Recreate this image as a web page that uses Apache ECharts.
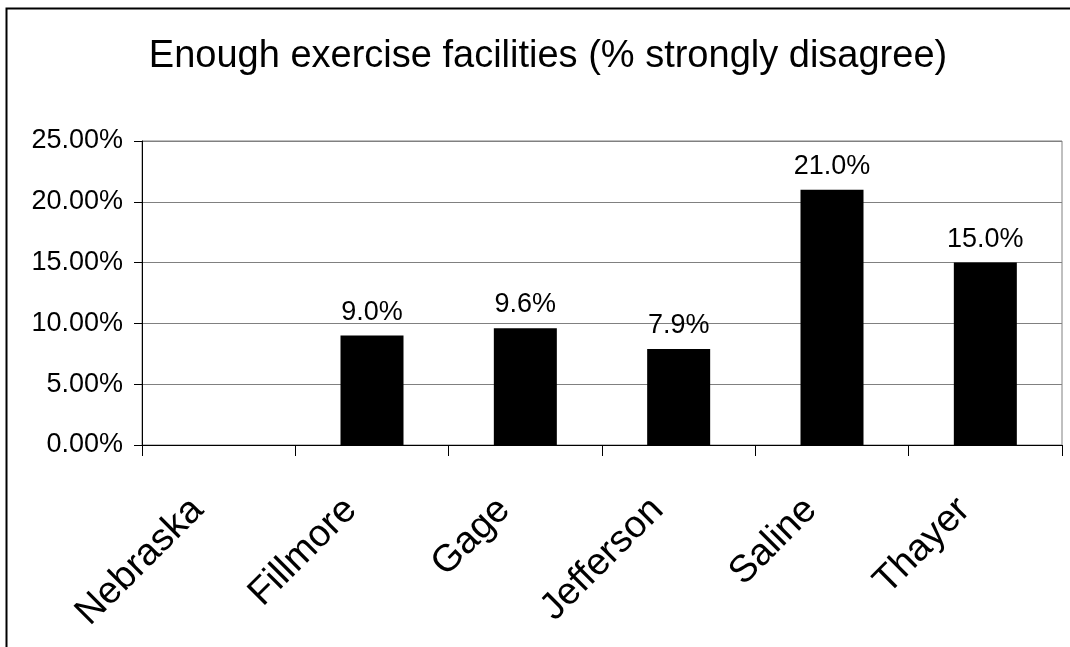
<!DOCTYPE html>
<html><head><meta charset="utf-8">
<script src="https://cdn.jsdelivr.net/npm/echarts@6/dist/echarts.min.js"></script>
<style>html,body{margin:0;padding:0;background:#fff}#c{width:1070px;height:647px}</style>
</head><body><div id="c"></div>
<script>
const titleText = 'Enough exercise facilities (% strongly disagree)';
const categories = ['Nebraska', 'Fillmore', 'Gage', 'Jefferson', 'Saline', 'Thayer'];
const values = [null, 9.0, 9.6, 7.9, 21.0, 15.0];
const yMin = 0, yMax = 25, yStep = 5;

const chart = echarts.init(document.getElementById('c'), null, {renderer: 'canvas'});
const F = 'Arial, "Liberation Sans", sans-serif';
chart.setOption({
  animation: false,
  backgroundColor: '#fff',
  title: {
    text: titleText, left: 543, top: 33, textAlign: 'center',
    textStyle: {fontFamily: F, fontSize: 38, fontWeight: 'normal', color: '#000'}
  },
  grid: {left: 142, right: 8, top: 141, bottom: 202, show: true, borderColor: '#808080', borderWidth: 1, containLabel: false},
  xAxis: {
    type: 'category', data: categories, boundaryGap: true,
    axisLine: {lineStyle: {color: '#000', width: 1}},
    axisTick: {show: true, length: 11, lineStyle: {color: '#000'}},
    axisLabel: {rotate: 45, margin: 38, padding: [0, 30, 0, 0], fontFamily: F, fontSize: 38, color: '#000', interval: 0}
  },
  yAxis: {
    type: 'value', min: yMin, max: yMax, interval: yStep,
    axisLine: {show: true, lineStyle: {color: '#000', width: 1}},
    axisTick: {show: true, length: 8, lineStyle: {color: '#000'}},
    splitLine: {lineStyle: {color: '#808080', width: 1}},
    axisLabel: {margin: 19, fontFamily: F, fontSize: 27, color: '#000', formatter: v => v.toFixed(2) + '%'}
  },
  series: [{
    type: 'bar', data: values, barWidth: 63,
    itemStyle: {color: '#000'},
    label: {show: true, position: 'top', distance: 10, fontFamily: F, fontSize: 27, color: '#000',
      formatter: p => p.value == null ? '' : p.value.toFixed(1) + '%'}
  }],
  graphic: [{
    type: 'rect', shape: {x: 6.5, y: 8.5, width: 1200, height: 800},
    style: {fill: null, stroke: '#000', lineWidth: 2}, silent: true, z: 100
  }]
});
</script></body></html>
